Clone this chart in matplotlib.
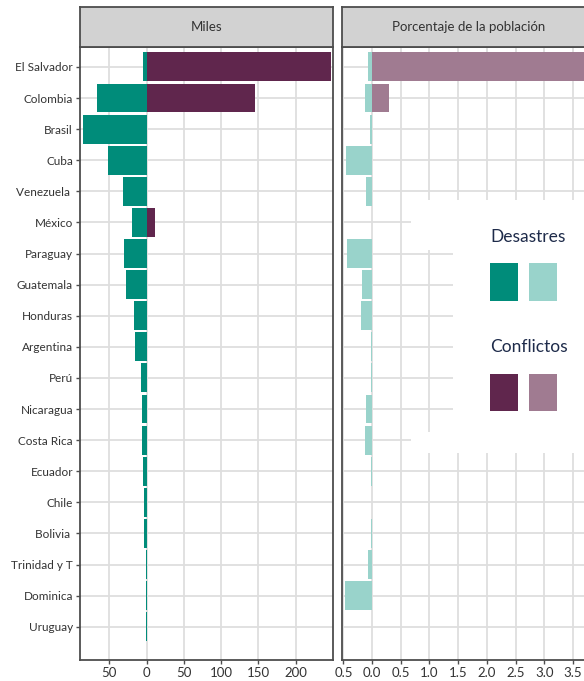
import numpy as np
import matplotlib
matplotlib.use("Agg")
from matplotlib import pyplot as plt
from matplotlib.patches import Rectangle

plt.rcParams['font.family'] = ['Lato', 'DejaVu Sans']

paises = ['El Salvador', 'Colombia', 'Brasil', 'Cuba', 'Venezuela ', 'México',
          'Paraguay', 'Guatemala', 'Honduras', 'Argentina', 'Perú', 'Nicaragua',
          'Costa Rica', 'Ecuador', 'Chile', 'Bolivia ', 'Trinidad y T', 'Dominica',
          'Uruguay']

# miles de personas
desastres_miles = [4.5, 66.5, 86, 51.5, 32, 19.5, 30.5, 27.5, 17, 15.5,
                   8, 6.5, 6, 4.5, 3, 3, 1, 0.8, 0.5]
conflictos_miles = [247, 145, 0, 0, 0, 11, 0, 0, 0, 0,
                    0, 0, 0, 0, 0, 0, 0, 0, 0]

# porcentaje de la poblacion
desastres_pct = [0.065, 0.13, 0.045, 0.46, 0.11, 0.01, 0.44, 0.17, 0.19, 0.02,
                 0.02, 0.11, 0.13, 0.02, 0.01, 0.02, 0.075, 0.48, 0.008]
conflictos_pct = [3.9, 0.30, 0, 0, 0, 0, 0, 0, 0, 0,
                  0, 0, 0, 0, 0, 0, 0, 0, 0]

ticks_miles = [-50, 0, 50, 100, 150, 200]
ticks_pct = [-0.5, 0.0, 0.5, 1.0, 1.5, 2.0, 2.5, 3.0, 3.5]

verde = '#008C7A'
verde_claro = '#99D3CB'
morado = '#60264D'
morado_claro = '#A07B91'
texto = '#333333'
borde = '#4D4D4D'
grid_col = '#DEDEDE'

W, H = 584, 681
fig = plt.figure(figsize=(W / 100, H / 100), dpi=100)

def px_box(x0, y0, x1, y1):
    return [x0 / W, 1 - y1 / H, (x1 - x0) / W, (y1 - y0) / H]

ax1 = fig.add_axes(px_box(80, 47, 333, 660))
ax2 = fig.add_axes(px_box(341.7, 47, 594.7, 660))
s1 = fig.add_axes(px_box(80, 7, 333, 47))
s2 = fig.add_axes(px_box(341.7, 7, 594.7, 47))

y = np.arange(len(paises))

def setup(ax, ticks, xlim, fmt):
    ax.set_axisbelow(True)
    ax.grid(True, color=grid_col, lw=1.3)
    ax.set_xlim(*xlim)
    ax.set_ylim(19.07, -0.64)
    ax.set_yticks(y)
    ax.set_xticks(ticks)
    ax.set_xticklabels([fmt(abs(t)) for t in ticks], fontsize=9.5, color=texto)
    for s in ax.spines.values():
        s.set_color(borde)
        s.set_linewidth(1.3)
    ax.tick_params(axis='both', length=3, width=1, color=borde, pad=2)

setup(ax1, ticks_miles, (-89.5, 250), lambda v: '%d' % v)
setup(ax2, ticks_pct, (-0.53, 3.88), lambda v: '%.1f' % v)
ax1.set_yticklabels(paises, fontsize=8.5, color=texto)
ax2.set_yticklabels([])
ax2.tick_params(axis='y', length=0)

bh = 0.93
ax1.barh(y, -np.array(desastres_miles), height=bh, color=verde, lw=0, zorder=2)
ax1.barh(y, conflictos_miles, height=bh, color=morado, lw=0, zorder=2)
ax2.barh(y, -np.array(desastres_pct), height=bh, color=verde_claro, lw=0, zorder=2)
ax2.barh(y, conflictos_pct, height=bh, color=morado_claro, lw=0, zorder=2)

# white legend background covering part of the grid
for (x0, y0, w, h) in [(0.44, 0.338, 0.6, 0.412), (0.274, 0.669, 0.17, 0.081), (0.274, 0.338, 0.17, 0.034)]:
    ax2.add_patch(Rectangle((x0, y0), w, h, transform=ax2.transAxes, facecolor='white',
                            edgecolor='none', zorder=1))

leg_txt = '#1E2B4A'
ax2.text(0.587, 0.690, 'Desastres', transform=ax2.transAxes, fontsize=12.5,
         color=leg_txt, va='center', ha='left', zorder=5)
ax2.text(0.587, 0.511, 'Conflictos', transform=ax2.transAxes, fontsize=12.5,
         color=leg_txt, va='center', ha='left', zorder=5)
for (x0, y0, c) in [(0.587, 0.586, verde), (0.741, 0.586, verde_claro),
                    (0.587, 0.406, morado), (0.741, 0.406, morado_claro)]:
    ax2.add_patch(Rectangle((x0, y0), 0.111, 0.061, transform=ax2.transAxes,
                            facecolor=c, edgecolor='none', zorder=5))

for s, t in [(s1, 'Miles'), (s2, 'Porcentaje de la población')]:
    s.set_facecolor('#D2D2D2')
    s.set_xticks([])
    s.set_yticks([])
    for sp in s.spines.values():
        sp.set_color(borde)
        sp.set_linewidth(1.3)
    s.text(0.5, 0.5, t, transform=s.transAxes, ha='center', va='center',
           fontsize=9.5, color=texto)

fig.savefig('out.png', dpi=100)
